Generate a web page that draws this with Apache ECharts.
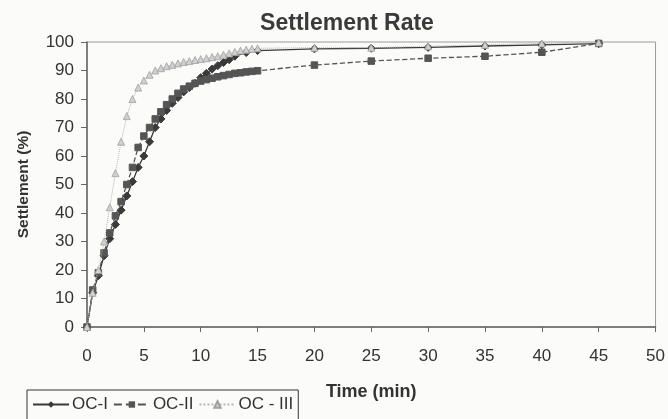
<!DOCTYPE html>
<html>
<head>
<meta charset="utf-8">
<script src="https://cdn.jsdelivr.net/npm/echarts@6/dist/echarts.min.js"></script>
<style>
html,body{margin:0;padding:0;background:#fbfbf9;}
#c{width:668px;height:419px;}
</style>
</head>
<body>
<div id="c"></div>
<script>
// Time (min) and settlement (%) values
const timeOC1 = [0,0.5,1,1.5,2,2.5,3,3.5,4,4.5,5,5.5,6,6.5,7,7.5,8,8.5,9,9.5,10,10.5,11,11.5,12,12.5,13,14,15,20,25,30,35,40,45];
const valOC1  = [0,12,18,25,31,36,41,46,51,56,60,65,70,73,76,78.5,80.5,82.5,84,85.5,87.5,89,90.5,91.7,92.8,93.8,95,96.3,97,97.6,97.8,98.1,98.6,99,99.4];

const timeOC2 = [0,0.5,1,1.5,2,2.5,3,3.5,4,4.5,5,5.5,6,6.5,7,7.5,8,8.5,9,9.5,10,10.5,11,11.5,12,12.5,13,13.5,14,14.5,15,20,25,30,35,40,45];
const valOC2  = [0,13,19,26,33,39,44,50,56,63,67,70,73,75.5,78,80,82,83.5,84.5,85.5,86.3,86.8,87.3,87.8,88.2,88.6,89,89.2,89.5,89.7,89.9,91.9,93.3,94.3,95,96.4,99.5];

const timeOC3 = [0,0.5,1,1.5,2,2.5,3,3.5,4,4.5,5,5.5,6,6.5,7,7.5,8,8.5,9,9.5,10,10.5,11,11.5,12,12.5,13,13.5,14,14.5,15,20,25,30,35,40,45];
const valOC3  = [0,12,20,30,42,54,65,74,80,84,86.5,88.5,90,90.8,91.5,92,92.5,93,93.3,93.7,94,94.3,94.7,95,95.5,96,96.5,97,97.3,97.6,97.8,98,98,98.5,99,99.5,99.8];

const xTicks = [0,5,10,15,20,25,30,35,40,45,50];
const yTicks = [0,10,20,30,40,50,60,70,80,90,100];

function pairs(xs, ys){ return xs.map((x,i)=>[x, ys[i]]); }

const chart = echarts.init(document.getElementById('c'));
const fontFam = '"Liberation Sans", Arial, sans-serif';
chart.setOption({
  backgroundColor: '#fbfbf9',
  animation: false,
  title: {
    text: 'Settlement Rate',
    left: 342, top: 7, textAlign: 'center',
    textStyle: {fontFamily: fontFam, fontSize: 23, fontWeight: 'bold', color: '#3a3a3a'}
  },
  grid: {left: 87, right: 11, top: 42, bottom: 92, show: true, borderColor: '#9a9a9a', borderWidth: 1, backgroundColor: 'transparent'},
  xAxis: {
    type: 'value', min: xTicks[0], max: xTicks[xTicks.length-1], interval: 5,
    name: 'Time (min)', nameLocation: 'middle', nameGap: 56,
    nameTextStyle: {fontFamily: fontFam, fontSize: 18, fontWeight: 'bold', color: '#333'},
    axisLine: {lineStyle: {color: '#666', width: 1.5}},
    axisTick: {show: true, inside: false, length: 5, lineStyle: {color: '#666'}},
    axisLabel: {fontFamily: fontFam, fontSize: 17, color: '#333', margin: 21},
    splitLine: {show: false}
  },
  yAxis: {
    type: 'value', min: yTicks[0], max: yTicks[yTicks.length-1], interval: 10,
    name: 'Settlement (%)', nameLocation: 'middle', nameGap: 55, nameRotate: 90,
    nameTextStyle: {fontFamily: fontFam, fontSize: 15.5, fontWeight: 'bold', color: '#333'},
    axisLine: {show: true, lineStyle: {color: '#666', width: 1.5}},
    axisTick: {show: true, inside: false, length: 6, lineStyle: {color: '#666'}},
    axisLabel: {fontFamily: fontFam, fontSize: 17, color: '#333', margin: 13},
    splitLine: {show: false}
  },
  legend: {
    left: 27, top: 390, orient: 'horizontal',
    borderColor: '#333', borderWidth: 1, padding: [6, 5, 12, 5],
    itemGap: 5, itemWidth: 36, itemHeight: 8,
    textStyle: {fontFamily: fontFam, fontSize: 17, color: '#333', padding: [0,0,0,-2]},
    data: ['OC-I', 'OC-II', 'OC - III']
  },
  series: [
    {
      name: 'OC-I', type: 'line', data: pairs(timeOC1, valOC1),
      symbol: 'diamond', symbolSize: 8,
      lineStyle: {color: '#3a3a3a', width: 1.3},
      itemStyle: {color: '#3a3a3a', borderColor: '#3a3a3a'},
      z: 3
    },
    {
      name: 'OC-II', type: 'line', data: pairs(timeOC2, valOC2),
      symbol: 'rect', symbolSize: 6.5,
      lineStyle: {color: '#555', width: 1.3, type: 'dashed'},
      itemStyle: {color: '#555', borderColor: '#555'},
      z: 4
    },
    {
      name: 'OC - III', type: 'line', data: pairs(timeOC3, valOC3),
      symbol: 'triangle', symbolSize: 7,
      lineStyle: {color: '#b5b5b5', width: 1, type: 'dotted'},
      itemStyle: {color: '#d0d0d0', borderColor: '#a0a0a0', borderWidth: 0.8},
      z: 5
    }
  ]
});
</script>
</body>
</html>
